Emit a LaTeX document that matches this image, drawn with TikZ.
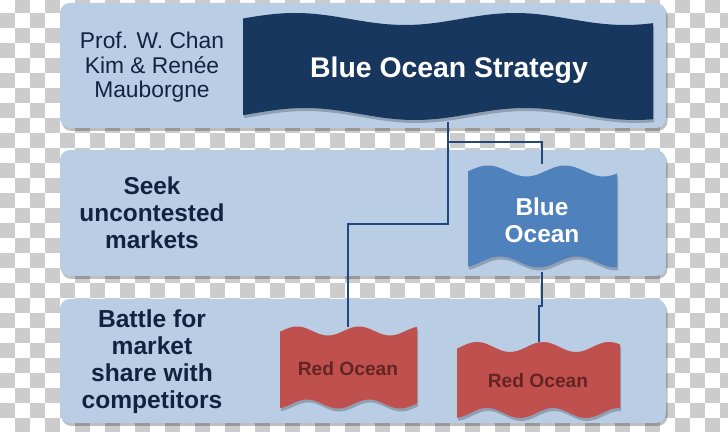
\documentclass[tikz,border=0pt]{standalone}
\usepackage{fontspec}
\setmainfont{Liberation Sans}
\definecolor{panel}{HTML}{B9CDE5}
\definecolor{navy}{HTML}{17375E}
\definecolor{oceanblue}{HTML}{4F81BD}
\definecolor{oceanred}{HTML}{C0504D}
\definecolor{redtext}{HTML}{632523}
\definecolor{darktext}{HTML}{0F243E}
\definecolor{link}{HTML}{1F497D}
\definecolor{chk}{HTML}{CCCCCC}

% wavy box: x1, x2, middle of top edge, amplitude, period, top crest, bottom crest, height, style
\newcommand{\wavebox}[9]{%
  \fill[#9] plot[domain=#1:#2, samples=80] (\x,{#3-#4*cos((360/#5)*(\x-#6))})
    -- plot[domain=#2:#1, samples=80] (\x,{#3+#8-#4*cos((360/#5)*(\x-#7))}) -- cycle;}

\begin{document}
\begin{tikzpicture}[x=0.5pt,y=-0.5pt,
  shadow/.style={black, opacity=.22, xshift=0.6pt, yshift=-1.5pt},
  lefttext/.style={align=center, text=darktext},
  link/.style={draw=link, line width=0.6pt}]
\useasboundingbox (0,0) rectangle (728,432);
\clip (0,0) rectangle (728,432);

% transparency checkerboard
\fill [white] (0,0) rectangle (728,432);
\foreach \i in {0,...,48} \foreach \j in {0,...,29} {
  \ifodd\numexpr\i+\j\relax \fill [chk] ({15*\i},{15*\j-2}) rectangle ++(15,15); \fi
}

% panels
\foreach \ya/\yb in {3/128,150/276,299/423} {
  \fill [black, opacity=.25, rounded corners=5pt] (61.5,\ya+3) rectangle (667.5,\yb+3);
  \fill [panel, rounded corners=5pt] (60,\ya) rectangle (666,\yb);
}

% wavy shapes
\wavebox{243}{653}{19}{6}{220}{295}{305}{95}{shadow}
\wavebox{243}{653}{19}{6}{220}{295}{305}{95}{navy}
\wavebox{468}{617}{171}{5.5}{77}{488}{500}{91}{shadow}
\wavebox{468}{617}{171}{5.5}{77}{488}{500}{91}{oceanblue}
\wavebox{280}{417}{331}{4.5}{62}{297}{307}{73}{shadow}
\wavebox{280}{417}{331}{4.5}{62}{297}{307}{73}{oceanred}
\wavebox{457}{620}{347}{5}{66}{477}{487}{66}{shadow}
\wavebox{457}{620}{347}{5}{66}{477}{487}{66}{oceanred}

% texts
\node [lefttext, font=\fontsize{11.4}{12.25}\selectfont] (authors) at (152,67.6)
  {Prof. W. Chan\\Kim \& Renée\\Mauborgne};
\node [lefttext, font=\fontsize{12.2}{13.5}\selectfont\bfseries] (seek) at (152,213)
  {Seek\\uncontested\\markets};
\node [lefttext, font=\fontsize{12.3}{13.5}\selectfont\bfseries] (battle) at (152,362)
  {Battle for\\market\\share with\\competitors};
\node [anchor=base, text=white, font=\fontsize{14.2}{17}\selectfont\bfseries] (bos) at (449,78)
  {Blue Ocean Strategy};
\node [align=center, text=white, font=\fontsize{12.2}{13.5}\selectfont\bfseries] (blue) at (542,220)
  {Blue\\Ocean};
\node [anchor=base, text=redtext, font=\fontsize{9.6}{11}\selectfont\bfseries] (red1) at (348,376)
  {Red Ocean};
\node [anchor=base, text=redtext, font=\fontsize{9.6}{11}\selectfont\bfseries] (red2) at (538,388)
  {Red Ocean};

% connection points
\coordinate (bos-s) at (448,122);
\coordinate (blue-n) at (542,164);
\coordinate (blue-s) at (542,272);
\coordinate (red1-n) at (348,327);
\coordinate (red2-n) at (539,342);

% connectors
\draw [link] (bos-s) -- ++(0,102) -| (red1-n);
\draw [link] (bos-s) ++(0,20) -| (blue-n);
\draw [link] (blue-s) -- ++(0,34) -| (red2-n);

\end{tikzpicture}
\end{document}
